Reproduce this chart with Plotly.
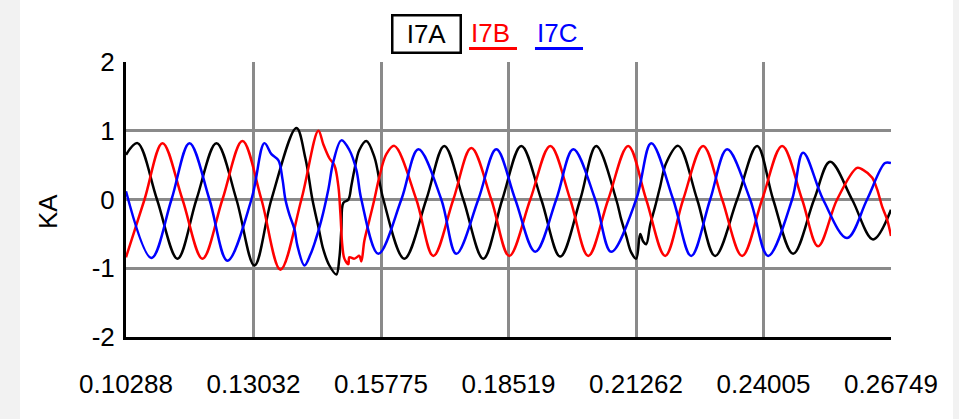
import plotly.graph_objects as go

# ---- data (time in s, current in kA) ----
a_t = [0.10288, 0.10535, 0.10955, 0.11396, 0.11804, 0.12234, 0.12664, 0.13051, 0.13417, 0.13955,
       0.14148, 0.14299, 0.14428, 0.14535, 0.14664, 0.14815, 0.14879, 0.14922, 0.14965, 0.15073,
       0.15137, 0.15202, 0.15309, 0.15460, 0.15632, 0.15826, 0.16277, 0.16750, 0.17137, 0.17546,
       0.17976, 0.18385, 0.18793, 0.19223, 0.19632, 0.20062, 0.20406, 0.20836, 0.20944, 0.21051,
       0.21159, 0.21266, 0.21352, 0.21417, 0.21481, 0.21567, 0.21675, 0.21782, 0.21911, 0.22170,
       0.22578, 0.22965, 0.23438, 0.23868, 0.24213, 0.24643, 0.25094, 0.25438, 0.25911, 0.26363,
       0.26749]
a_v = [0.65, 0.82, 0.0, -0.86, 0.0, 0.82, 0.0, -0.96, 0.0, 1.04,
       0.60, 0.0, -0.40, -0.73, -0.96, -1.09, -0.85, -0.43, -0.05, 0.0,
       0.20, 0.43, 0.72, 0.85, 0.62, 0.0, -0.86, 0.0, 0.78, 0.0,
       -0.86, 0.0, 0.78, 0.0, -0.83, 0.0, 0.78, 0.0, -0.29, -0.53,
       -0.77, -0.86, -0.50, -0.61, -0.65, -0.37, -0.10, 0.19, 0.53, 0.78,
       0.0, -0.82, 0.0, 0.78, 0.0, -0.79, 0.0, 0.55, 0.0, -0.58,
       -0.15]

b_t = [0.10288, 0.10686, 0.11073, 0.11503, 0.11933, 0.12363, 0.12793, 0.13202, 0.13611, 0.14062,
       0.14428, 0.14535, 0.14664, 0.14772, 0.14858, 0.14901, 0.14944, 0.14987, 0.15073, 0.15094,
       0.15202, 0.15309, 0.15352, 0.15417, 0.15525, 0.15632, 0.15740, 0.15890, 0.16062, 0.16535,
       0.16901, 0.17331, 0.17718, 0.18148, 0.18535, 0.18987, 0.19417, 0.19847, 0.20234, 0.20664,
       0.21094, 0.21481, 0.21890, 0.22277, 0.22707, 0.23116, 0.23546, 0.23976, 0.24406, 0.24836,
       0.25180, 0.25589, 0.26019, 0.26148, 0.26341, 0.26449, 0.26557, 0.26664, 0.26749]
b_v = [-0.84, 0.0, 0.82, 0.0, -0.86, 0.0, 0.85, 0.0, -1.02, 0.0,
       1.00, 0.80, 0.60, 0.50, 0.19, -0.20, -0.68, -0.86, -0.94, -0.84,
       -0.86, -0.82, -0.90, -0.60, -0.30, 0.0, 0.33, 0.66, 0.78, 0.0,
       -0.82, 0.0, 0.75, 0.0, -0.82, 0.0, 0.78, 0.0, -0.82, 0.0,
       0.78, 0.0, -0.82, 0.0, 0.78, 0.0, -0.82, 0.0, 0.78, 0.0,
       -0.68, 0.0, 0.46, 0.43, 0.32, 0.15, -0.10, -0.29, -0.53]

c_t = [0.10288, 0.10836, 0.11267, 0.11654, 0.12084, 0.12471, 0.12987, 0.13266, 0.13417, 0.13568,
       0.13654, 0.13718, 0.13804, 0.13912, 0.13976, 0.14127, 0.14256, 0.14363, 0.14492, 0.14643,
       0.14750, 0.14922, 0.15094, 0.15245, 0.15352, 0.15718, 0.16213, 0.16578, 0.17073, 0.17395,
       0.17869, 0.18256, 0.18664, 0.19094, 0.19546, 0.19912, 0.20385, 0.20729, 0.21266, 0.21589,
       0.22062, 0.22449, 0.22858, 0.23223, 0.23718, 0.24105, 0.24621, 0.24858, 0.25288, 0.25804,
       0.26234, 0.26621, 0.26749]
c_v = [0.12, -0.85, 0.0, 0.82, 0.0, -0.89, 0.0, 0.82, 0.66, 0.57,
       0.30, 0.0, -0.22, -0.43, -0.67, -0.96, -0.80, -0.60, -0.30, 0.15,
       0.55, 0.86, 0.72, 0.43, 0.0, -0.79, 0.0, 0.73, 0.0, -0.79,
       0.0, 0.73, 0.0, -0.76, 0.0, 0.73, 0.0, -0.76, 0.0, 0.82,
       0.0, -0.82, 0.0, 0.73, 0.0, -0.82, 0.0, 0.68, 0.0, -0.56,
       0.0, 0.53, 0.53]

x_tick_vals = [0.10288, 0.13032, 0.15775, 0.18519, 0.21262, 0.24005, 0.26749]
x_tick_text = ["0.10288", "0.13032", "0.15775", "0.18519", "0.21262", "0.24005", "0.26749"]
y_tick_vals = [-2, -1, 0, 1, 2]
y_tick_text = ["-2", "-1", "0", "1", "2"]

names = ["I7A", "I7B", "I7C"]
colors = ["#000000", "#ff0000", "#0000ff"]

FONT = "Arial, Liberation Sans, sans-serif"
GRID = "#8a8a8a"

fig = go.Figure()
for t, v, n, c in [(a_t, a_v, names[0], colors[0]), (b_t, b_v, names[1], colors[1]),
                   (c_t, c_v, names[2], colors[2])]:
    fig.add_trace(go.Scatter(x=t, y=v, name=n, mode="lines",
                             line=dict(color=c, width=2.5, shape="spline", smoothing=1.0),
                             showlegend=False))

fig.update_layout(
    width=959, height=419,
    margin=dict(l=126, r=68, t=62, b=82),
    paper_bgcolor="#ffffff", plot_bgcolor="#ffffff",
    font=dict(family=FONT, size=26, color="#000000"),
    xaxis=dict(range=[x_tick_vals[0], x_tick_vals[-1]], tickvals=x_tick_vals, ticktext=x_tick_text,
               showgrid=True, gridcolor=GRID, gridwidth=3, zeroline=False,
               showline=True, linecolor="#000000", linewidth=3, ticks="",
               ticklabelstandoff=22, tickfont=dict(size=26)),
    yaxis=dict(range=[-2, 2], tickvals=y_tick_vals, ticktext=y_tick_text,
               showgrid=True, gridcolor=GRID, gridwidth=3, zeroline=False,
               showline=True, linecolor="#000000", linewidth=3, ticks="",
               ticklabelstandoff=3, tickfont=dict(size=26)),
    shapes=[
        dict(type="rect", xref="paper", yref="paper", x0=-0.1647, x1=-0.1386, y0=-0.30, y1=1.23,
             fillcolor="#f2f2f2", line=dict(width=0), layer="below"),
        dict(type="rect", xref="paper", yref="paper", x0=1.0810, x1=1.09, y0=-0.30, y1=1.23,
             fillcolor="#f2f2f2", line=dict(width=0), layer="below"),
        dict(type="line", xref="paper", yref="paper", x0=0.4484, x1=0.5111, y0=1.049, y1=1.049,
             line=dict(color=colors[1], width=3)),
        dict(type="line", xref="paper", yref="paper", x0=0.5346, x1=0.5974, y0=1.049, y1=1.049,
             line=dict(color=colors[2], width=3)),
    ],
    annotations=[
        dict(text="KA", xref="paper", yref="paper", x=-0.102, y=0.458, textangle=-90,
             showarrow=False, font=dict(size=26, color="#000000"), xanchor="center", yanchor="middle"),
        dict(text=names[0], xref="paper", yref="paper", x=0.3922, y=1.1, showarrow=False,
             font=dict(size=26, color=colors[0]), xanchor="center", yanchor="middle",
             width=64, height=33, align="center", valign="middle",
             bordercolor="#000000", borderwidth=2.5, borderpad=1, bgcolor="#ffffff"),
        dict(text=names[1], xref="paper", yref="paper", x=0.4771, y=1.105, showarrow=False,
             font=dict(size=26, color=colors[1]), xanchor="center", yanchor="middle"),
        dict(text=names[2], xref="paper", yref="paper", x=0.5634, y=1.105, showarrow=False,
             font=dict(size=26, color=colors[2]), xanchor="center", yanchor="middle"),
    ],
)

fig.write_html("out.html", config={"displayModeBar": False},
               post_script="document.body.style.margin='0';document.body.style.padding='0';")
